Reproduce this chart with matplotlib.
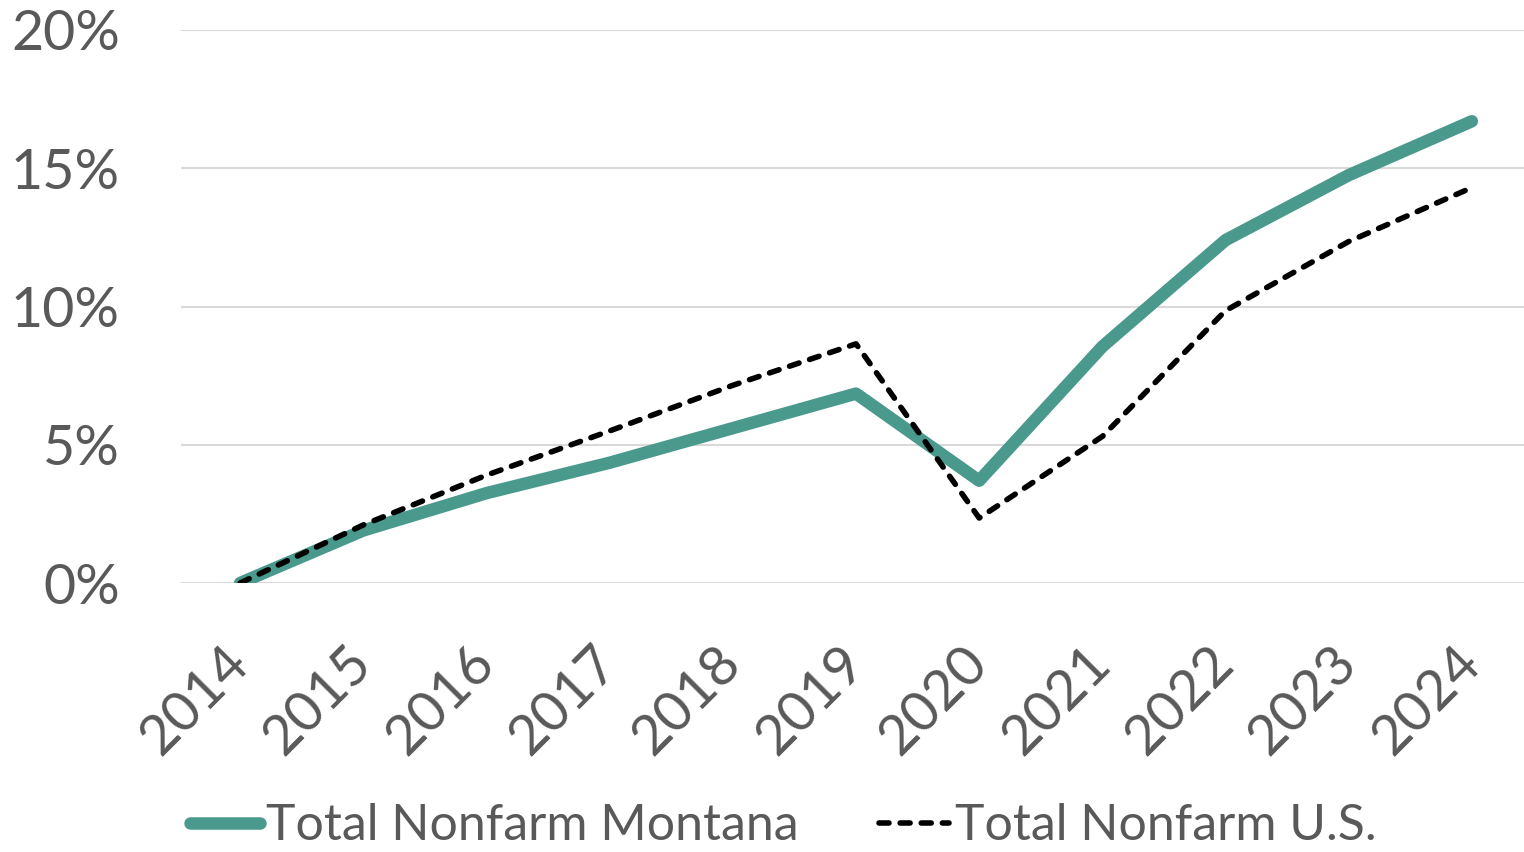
import matplotlib
matplotlib.use("Agg")
import matplotlib.pyplot as plt
from matplotlib.ticker import FuncFormatter

# growth since 2014, percent
years = ["2014", "2015", "2016", "2017", "2018", "2019",
         "2020", "2021", "2022", "2023", "2024"]
montana = [0.0, 1.9, 3.25, 4.35, 5.6, 6.85, 3.7, 8.55, 12.4, 14.75, 16.7]
us = [0.0, 2.1, 3.9, 5.5, 7.15, 8.65, 2.35, 5.3, 9.85, 12.35, 14.3]

TEXT = "#595959"
plt.rcParams['font.family'] = ['Lato', 'DejaVu Sans']

fig = plt.figure(figsize=(15.24, 8.52), dpi=100)
ax = fig.add_axes([181 / 1524, 1 - 583 / 852, 1350 / 1524, 553 / 852])

x = range(len(years))
ax.plot(x, montana, color="#4A998D", lw=9.0, solid_capstyle="round",
        solid_joinstyle="round", label="Total Nonfarm Montana", zorder=3)
ln, = ax.plot(x, us, color="black", lw=4.0, dash_capstyle="round",
              dash_joinstyle="round", label="Total Nonfarm U.S.", zorder=4)
ln.set_dashes((1.8, 2.0))

ax.set_ylim(0, 20)
ax.set_xlim(-0.48, 10.48)
ax.set_yticks([0, 5, 10, 15, 20])
ax.yaxis.set_major_formatter(FuncFormatter(lambda v, p: "%d%%" % v))
ax.set_xticks(list(x))
ax.set_xticklabels(years, rotation=45, ha="right", va="center",
                   rotation_mode="anchor")
ax.grid(axis="y", color="#D9D9D9", lw=1.5)
ax.set_axisbelow(True)
for s in ax.spines.values():
    s.set_visible(False)
ax.tick_params(axis="both", length=0, labelsize=40, labelcolor=TEXT)
ax.tick_params(axis="y", pad=44)
ax.tick_params(axis="x", pad=52)

fig.legend(loc="center", bbox_to_anchor=(0.514, 0.03), ncol=2, frameon=False,
           fontsize=36, labelcolor=TEXT, handlelength=1.4, handletextpad=0.12,
           columnspacing=1.6, borderaxespad=0)

fig.savefig("out.png", dpi=100)
